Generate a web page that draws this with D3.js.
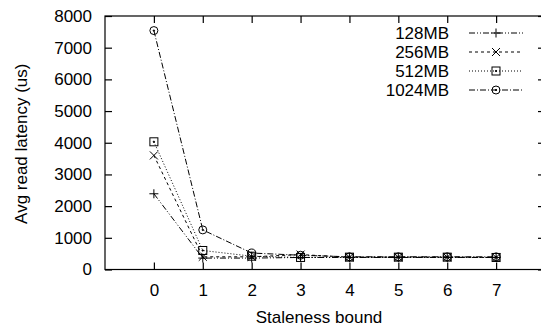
<!DOCTYPE html>
<html>
<head>
<meta charset="utf-8">
<script src="https://cdn.jsdelivr.net/npm/d3@7"></script>
<style>
  body { margin: 0; background: #fff; }
  svg text { font-family: "Liberation Sans", Arial, sans-serif; fill: #000; }
</style>
</head>
<body>
<svg id="chart" width="541" height="329"></svg>
<script>
// staleness bound on x, latency in us on y
const bounds = [0, 1, 2, 3, 4, 5, 6, 7];
const seriesNames = ["128MB", "256MB", "512MB", "1024MB"];
const lat128 = [2390, 360, 360, 380, 380, 380, 380, 380];
const lat256 = [3600, 400, 400, 470, 390, 390, 390, 380];
const lat512 = [4030, 600, 420, 380, 390, 390, 390, 380];
const lat1024 = [7540, 1250, 520, 450, 400, 400, 400, 400];
const yTicks = [0, 1000, 2000, 3000, 4000, 5000, 6000, 7000, 8000];

const series = [
  { name: seriesNames[0], values: lat128, dash: "6,2,1,2,1,2", marker: "plus" },
  { name: seriesNames[1], values: lat256, dash: "3,3", marker: "cross" },
  { name: seriesNames[2], values: lat512, dash: "1,2", marker: "square" },
  { name: seriesNames[3], values: lat1024, dash: "6,2,1,2", marker: "circle" }
];

const svg = d3.select("#chart");
const margin = { left: 105, top: 16, right: 545, bottom: 269.5 };

const x = d3.scaleLinear().domain([-1, 8]).range([margin.left, margin.right]);
const y = d3.scaleLinear().domain([0, 8000]).range([margin.bottom, margin.top]);

const fontSize = "17px";

// border
svg.append("rect")
  .attr("x", margin.left).attr("y", margin.top)
  .attr("width", margin.right - margin.left)
  .attr("height", margin.bottom - margin.top)
  .attr("fill", "none").attr("stroke", "#000").attr("stroke-width", 1.2);

// axes (ticks drawn inward, like gnuplot)
const tickLen = 7;
svg.append("g")
  .attr("transform", `translate(0,${margin.bottom})`)
  .call(d3.axisBottom(x).tickValues(bounds).tickSize(-tickLen).tickPadding(14).tickFormat(d3.format("d")))
  .call(g => g.select(".domain").remove())
  .call(g => g.selectAll("text").attr("font-size", fontSize).attr("font-family", null));
svg.append("g")
  .attr("transform", `translate(0,${margin.top})`)
  .call(d3.axisTop(x).tickValues(bounds).tickSize(-tickLen).tickFormat(""))
  .call(g => g.select(".domain").remove());
svg.append("g")
  .attr("transform", `translate(${margin.left},0)`)
  .call(d3.axisLeft(y).tickValues(yTicks).tickSize(-tickLen).tickPadding(13).tickFormat(d3.format("d")))
  .call(g => g.select(".domain").remove())
  .call(g => g.selectAll("text").attr("font-size", fontSize).attr("font-family", null));
svg.append("g")
  .attr("transform", `translate(${margin.right},0)`)
  .call(d3.axisRight(y).tickValues(yTicks).tickSize(-tickLen).tickFormat(""))
  .call(g => g.select(".domain").remove());
svg.selectAll(".tick line").attr("stroke-width", 1.2);

// axis titles
svg.append("text")
  .attr("x", (margin.left + 541) / 2 - 4).attr("y", 323)
  .attr("text-anchor", "middle").attr("font-size", fontSize)
  .text("Staleness bound");
svg.append("text")
  .attr("transform", `translate(27,${(margin.top + margin.bottom) / 2 + 1}) rotate(-90)`)
  .attr("text-anchor", "middle").attr("font-size", fontSize)
  .text("Avg read latency (us)");

function drawMarker(g, type, cx, cy) {
  const s = 4;
  if (type === "plus") {
    g.append("path").attr("d", `M${cx - s - 0.5},${cy}H${cx + s + 0.5}M${cx},${cy - s - 0.5}V${cy + s + 0.5}`);
  } else if (type === "cross") {
    g.append("path").attr("d", `M${cx - s},${cy - s}L${cx + s},${cy + s}M${cx - s},${cy + s}L${cx + s},${cy - s}`);
  } else if (type === "square") {
    g.append("rect").attr("x", cx - s).attr("y", cy - s).attr("width", 2 * s).attr("height", 2 * s).attr("fill", "none");
    g.append("circle").attr("cx", cx).attr("cy", cy).attr("r", 0.7).attr("fill", "#000");
  } else {
    g.append("circle").attr("cx", cx).attr("cy", cy).attr("r", s).attr("fill", "none");
    g.append("circle").attr("cx", cx).attr("cy", cy).attr("r", 0.7).attr("fill", "#000");
  }
}

const line = d3.line().x((d, i) => x(bounds[i])).y(d => y(d));

const plot = svg.append("g");
series.forEach(s => {
  plot.append("path")
    .datum(s.values)
    .attr("d", line)
    .attr("fill", "none").attr("stroke", "#000")
    .attr("stroke-width", 1).attr("stroke-dasharray", s.dash);
  const mg = plot.append("g").attr("stroke", "#000").attr("stroke-width", 1);
  s.values.forEach((v, i) => drawMarker(mg, s.marker, x(bounds[i]), y(v)));
});

// legend
const legend = svg.append("g");
series.forEach((s, i) => {
  const ly = 33 + i * 19;
  legend.append("text")
    .attr("x", 449).attr("y", ly).attr("dy", "0.36em")
    .attr("text-anchor", "end").attr("font-size", fontSize)
    .text(s.name);
  legend.append("line")
    .attr("x1", 469).attr("x2", 523).attr("y1", ly).attr("y2", ly)
    .attr("stroke", "#000").attr("stroke-width", 1).attr("stroke-dasharray", s.dash);
  const mg = legend.append("g").attr("stroke", "#000").attr("stroke-width", 1);
  drawMarker(mg, s.marker, 496, ly);
});
</script>
</body>
</html>
